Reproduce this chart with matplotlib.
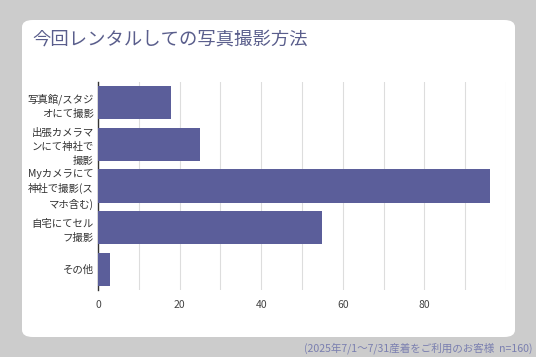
"""
写真撮影方法の横棒グラフ
"""
import matplotlib
matplotlib.use('Agg')
import matplotlib.pyplot as plt
from matplotlib.patches import FancyBboxPatch

plt.rcParams['font.family'] = ['Noto Sans CJK JP', 'DejaVu Sans']

categories = [
    '写真館/スタジ\nオにて撮影',
    '出張カメラマ\nンにて神社で\n撮影',
    'Myカメラにて\n神社で撮影(ス\nマホ含む)',
    '自宅にてセル\nフ撮影',
    'その他',
]
values = [18, 25, 96, 55, 3]
xticks = [0, 20, 40, 60, 80]

W, H = 536, 357
fig = plt.figure(figsize=(W / 100, H / 100), dpi=100)
fig.patch.set_facecolor('#cccccc')

# white rounded panel
panel = FancyBboxPatch((22 / W, 20 / H), (515 - 22) / W, (337 - 20) / H,
                       boxstyle='round,pad=0,rounding_size=0.02',
                       transform=fig.transFigure, facecolor='white',
                       edgecolor='none', zorder=-5)
fig.patches.append(panel)

fig.text(32 / W, 1 - 40 / H, '今回レンタルしての写真撮影方法',
         fontsize=13.2, color='#5a5e8c', va='center', ha='left')

ax = fig.add_axes([98 / W, 1 - 290 / H, (506 - 98) / W, (290 - 82) / H])
ax.set_zorder(2)
ax.set_facecolor('none')
ypos = list(range(len(categories)))
ax.barh(ypos, values, height=0.8, color='#5b5e9a', zorder=3)
ax.set_ylim(len(categories) - 0.5, -0.5)
ax.set_xlim(0, 100)
ax.set_yticks(ypos)
ax.set_yticklabels(categories, fontsize=7.5, color='#333333', linespacing=1.5)
ax.set_xticks(xticks)
ax.set_xticks([10, 30, 50, 70, 90, 100], minor=True)
ax.set_xticklabels([str(t) for t in xticks], fontsize=7.5, color='#444444')
ax.grid(True, axis='x', which='both', color='#dddddd', linewidth=0.8, zorder=0)
ax.tick_params(axis='y', length=0, pad=3)
ax.tick_params(axis='x', length=0, pad=7)
ax.tick_params(axis='x', which='minor', length=0)
for s in ['top', 'right', 'bottom']:
    ax.spines[s].set_visible(False)
ax.spines['left'].set_color('#333333')
ax.spines['left'].set_linewidth(1.0)

fig.text(533 / W, 1 - 348 / H, '(2025年7/1～7/31産着をご利用のお客様  n=160)',
         fontsize=7.6, color='#7a7fb0', ha='right', va='center')

fig.savefig('out.png', dpi=100, facecolor=fig.get_facecolor())
